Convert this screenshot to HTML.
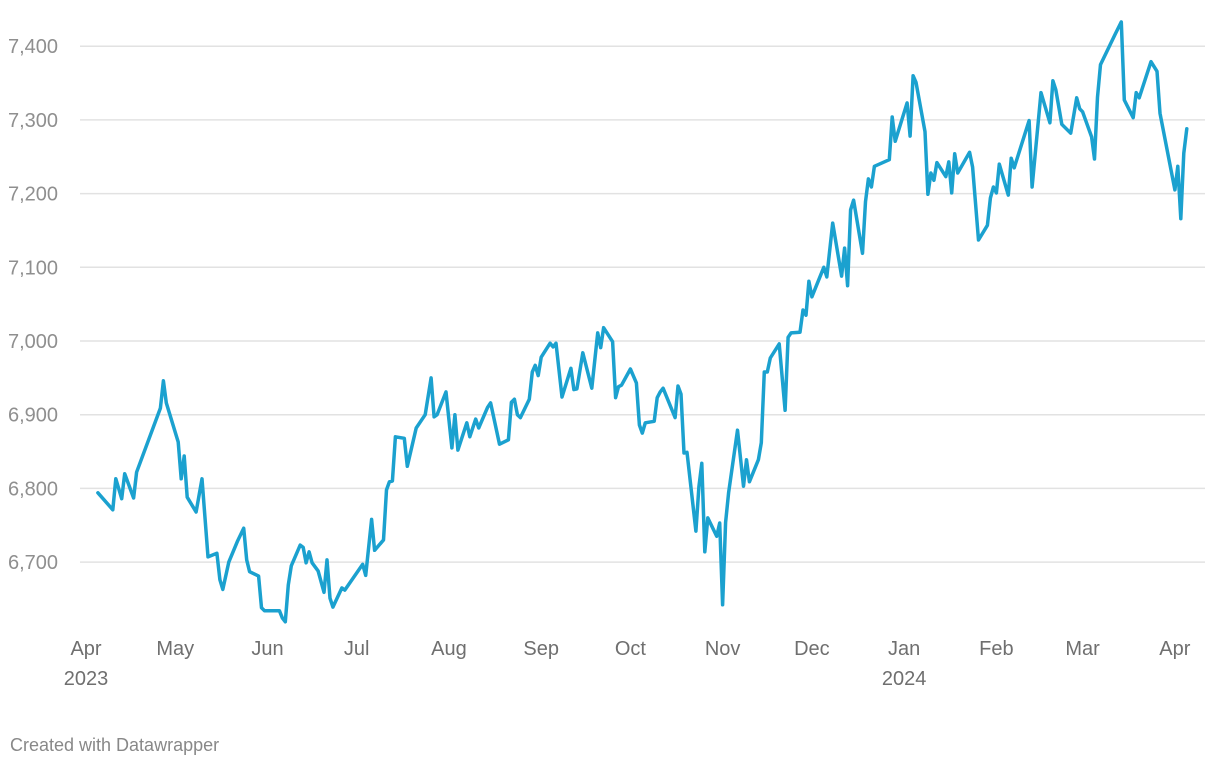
<!DOCTYPE html>
<html><head><meta charset="utf-8"><style>
body{margin:0;background:#fff;width:1220px;height:768px;overflow:hidden;font-family:"Liberation Sans",sans-serif}
svg text{font-family:"Liberation Sans",sans-serif}
</style></head><body>
<svg id="chart" width="1220" height="768" xmlns="http://www.w3.org/2000/svg"></svg>
<script>
const days=[4,9,10,12,13,16,17,25,26,27,31,32,33,34,37,39,41,44,45,46,48,51,53,54,55,58,59,60,65,66,67,68,69,72,73,74,75,76,78,80,81,82,83,86,87,93,94,96,97,100,101,102,103,104,107,108,111,114,116,117,118,121,123,124,125,128,129,131,132,135,136,139,142,143,144,145,146,149,150,151,152,153,156,157,158,160,163,164,165,167,170,172,173,174,177,178,179,180,183,185,186,187,188,191,192,193,194,198,199,200,201,202,205,206,207,208,209,212,213,214,215,216,219,221,222,223,226,227,228,229,230,233,235,236,237,240,241,242,243,244,248,249,251,254,255,256,257,258,261,262,263,264,265,270,271,272,276,277,278,279,282,283,284,285,286,289,290,291,292,293,297,298,300,303,304,305,306,307,310,311,312,317,318,321,324,325,326,328,331,333,334,335,338,339,340,341,346,348,349,352,353,354,358,360,361,366,367,368,369,370];
const values=[6794,6771,6813,6786,6820,6787,6822,6909,6946,6916,6863,6813,6844,6788,6768,6813,6707,6712,6676,6663,6700,6729,6746,6703,6687,6681,6638,6634,6634,6624,6619,6669,6695,6723,6720,6699,6714,6699,6688,6659,6703,6651,6639,6665,6662,6697,6682,6758,6716,6730,6798,6809,6810,6870,6868,6830,6882,6900,6950,6897,6900,6931,6855,6900,6852,6889,6870,6894,6882,6910,6916,6860,6866,6917,6921,6900,6896,6921,6958,6967,6953,6978,6997,6992,6997,6924,6963,6934,6935,6984,6936,7011,6991,7018,6999,6923,6938,6940,6962,6943,6886,6875,6889,6891,6923,6931,6936,6896,6939,6928,6848,6849,6742,6802,6834,6714,6760,6735,6753,6642,6754,6794,6879,6803,6839,6809,6839,6862,6958,6958,6977,6996,6906,7005,7011,7012,7042,7035,7081,7060,7100,7087,7160,7088,7126,7075,7178,7191,7119,7189,7220,7209,7237,7246,7304,7271,7323,7278,7360,7351,7284,7199,7228,7218,7242,7223,7243,7201,7254,7228,7256,7236,7137,7157,7194,7209,7201,7240,7198,7248,7235,7299,7209,7337,7296,7353,7341,7294,7282,7330,7315,7311,7277,7247,7331,7375,7417,7433,7327,7303,7337,7330,7379,7366,7309,7205,7237,7166,7255,7288];
const yTicks=[6700,6800,6900,7000,7100,7200,7300,7400];
const monthLabels=["Apr","May","Jun","Jul","Aug","Sep","Oct","Nov","Dec","Jan","Feb","Mar","Apr"];
const monthDays=[0,30,61,91,122,153,183,214,244,275,306,335,366];
const yearLabels=["2023","","","","","","","","","2024","","",""];
const NS="http://www.w3.org/2000/svg";
const svg=document.getElementById('chart');
const x=d=>86+d*2.975;
const y=v=>341-(v-7000)*0.737;
function mk(t,a){const e=document.createElementNS(NS,t);for(const k in a)e.setAttribute(k,a[k]);svg.appendChild(e);return e;}
yTicks.forEach(v=>{
 const l=mk('line',{x1:80,x2:1205,y1:y(v),y2:y(v),stroke:'#e2e2e2','stroke-width':1.5});
 
 
 const t=mk('text',{x:8,y:y(v)+7,fill:'#8f8f8f','font-size':20});
 
 
 t.textContent=v.toLocaleString('en-US');
});
monthLabels.forEach((m,i)=>{
 const t=mk('text',{x:x(monthDays[i]),y:655,fill:'#6f6f6f','font-size':20,'text-anchor':'middle'});
 
 
 t.textContent=m;
 if(yearLabels[i]){
  const t2=mk('text',{x:x(monthDays[i]),y:685,fill:'#6f6f6f','font-size':20,'text-anchor':'middle'});
  
  
  t2.textContent=yearLabels[i];
 }
});
const p=mk('path',{d:days.map((d,i)=>(i?'L':'M')+x(d).toFixed(1)+','+y(values[i]).toFixed(1)).join(''),fill:'none',stroke:'#1ba1cf','stroke-width':3.5,'stroke-linejoin':'round','stroke-linecap':'round'});


const f=mk('text',{x:10,y:751,fill:'#888','font-size':18});


f.textContent='Created with Datawrapper';
</script>
</body></html>
